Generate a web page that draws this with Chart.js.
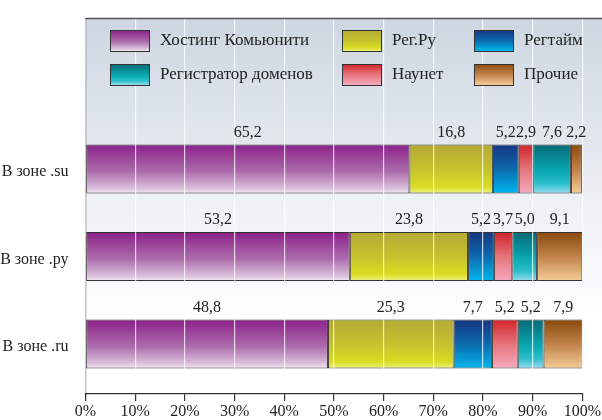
<!DOCTYPE html>
<html>
<head>
<meta charset="utf-8">
<script src="https://cdn.jsdelivr.net/npm/chart.js@4"></script>
<style>
  html, body { margin: 0; padding: 0; background: #fff; }
  #wrap { width: 602px; height: 420px; }
</style>
</head>
<body>
<div id="wrap"><canvas id="c" width="602" height="420"></canvas></div>
<script>
// --- data
const zones = ["В зоне .su", "В зоне .ру", "В зоне .ru"];
const companies = ["Хостинг Комьюнити", "Рег.Ру", "Регтайм", "Наунет", "Регистратор доменов", "Прочие"];
const hosting     = [65.2, 53.2, 48.8];
const regru       = [16.8, 23.8, 25.3];
const regtime     = [5.2, 5.2, 7.7];
const naunet      = [2.9, 3.7, 5.2];
const registrator = [7.6, 5.0, 5.2];
const other       = [2.2, 9.1, 7.9];
const xTicks = [0, 10, 20, 30, 40, 50, 60, 70, 80, 90, 100];

const series = [hosting, regru, regtime, naunet, registrator, other];

// gradient stops (top -> bottom) per company
const stops = [
  [[0, "#8b2189"], [0.55, "#ad6cad"], [0.88, "#d8bcd8"], [1, "#f2e6f2"]],
  [[0, "#b5a934"], [0.5, "#c6c22e"], [0.85, "#d8dc22"], [1, "#eef07a"]],
  [[0, "#163780"], [0.45, "#0e63a8"], [1, "#00b7ee"]],
  [[0, "#d2232a"], [0.5, "#e5757a"], [1, "#f5aac0"]],
  [[0, "#066a76"], [0.55, "#0aa9b2"], [0.8, "#2bbfcc"], [1, "#9adcee"]],
  [[0, "#8a4a0c"], [0.5, "#c0824a"], [1, "#f6cc98"]]
];

// legend order (3 columns x 2 rows) -> dataset index
const legendOrder = [0, 1, 2, 4, 3, 5];

const SERIF = "'Liberation Serif', 'DejaVu Serif', serif";
const BAR_PCT = 0.56;

function grad(ctx, i, y0, y1) {
  const g = ctx.createLinearGradient(0, y0, 0, y1);
  stops[i].forEach(s => g.addColorStop(s[0], s[1]));
  return g;
}

function barFill(i) {
  return (c) => {
    const chart = c.chart;
    const y = chart.scales.y;
    if (!chart.chartArea || !y || c.dataIndex == null) return stops[i][1][1];
    const mid = y.getPixelForValue(c.dataIndex);
    const half = Math.abs(y.getPixelForValue(1) - y.getPixelForValue(0)) * BAR_PCT / 2;
    return grad(chart.ctx, i, mid - half, mid + half);
  };
}

// background panel, top rule
const panel = {
  id: "panel",
  beforeDraw(chart) {
    const { ctx, chartArea: a } = chart;
    ctx.save();
    const g = ctx.createLinearGradient(0, a.top, 0, a.bottom);
    g.addColorStop(0, "#cdd6e1");
    g.addColorStop(0.5, "#eef1f5");
    g.addColorStop(0.8, "#ffffff");
    g.addColorStop(1, "#ffffff");
    ctx.fillStyle = g;
    ctx.fillRect(a.left, a.top, chart.width - a.left, a.bottom - a.top);
    ctx.restore();
  },
  afterDraw(chart) {
    const { ctx, chartArea: a } = chart;
    ctx.save();
    ctx.strokeStyle = "#555";
    ctx.lineWidth = 1.5;
    ctx.beginPath();
    ctx.moveTo(a.left, a.top);
    ctx.lineTo(chart.width, a.top);
    ctx.stroke();
    ctx.restore();
  }
};

// values above the segments
const valueLabels = {
  id: "valueLabels",
  afterDraw(chart) {
    const ctx = chart.ctx;
    ctx.save();
    ctx.font = "16px " + SERIF;
    ctx.fillStyle = "#222";
    ctx.textAlign = "center";
    ctx.textBaseline = "middle";
    chart.data.datasets.forEach((ds, i) => {
      chart.getDatasetMeta(i).data.forEach((bar, j) => {
        const v = ds.data[j].x;
        const cx = (bar.base + bar.x) / 2;
        const cy = bar.y - bar.height / 2 - 12;
        ctx.fillText(v.toFixed(1).replace(".", ","), cx, cy);
      });
    });
    ctx.restore();
  }
};

// legend 3 x 2 inside the panel
const gridLegend = {
  id: "gridLegend",
  afterDraw(chart) {
    const ctx = chart.ctx;
    const colX = [110, 342, 474];
    const rowY = [30, 64];
    ctx.save();
    ctx.font = "17px " + SERIF;
    ctx.textBaseline = "middle";
    legendOrder.forEach((di, k) => {
      const x = colX[k % 3], y = rowY[Math.floor(k / 3)];
      ctx.fillStyle = grad(ctx, di, y, y + 21);
      ctx.fillRect(x, y, 39, 21);
      ctx.strokeStyle = "#333";
      ctx.lineWidth = 1;
      ctx.strokeRect(x + 0.5, y + 0.5, 39, 21);
      ctx.fillStyle = "#222";
      ctx.fillText(chart.data.datasets[di].label, x + 50, y + 11);
    });
    ctx.restore();
  }
};

new Chart(document.getElementById("c"), {
  type: "bar",
  data: {
    datasets: companies.map((name, i) => ({
      label: name,
      data: series[i].map((v, j) => ({ x: v, y: j })),
      backgroundColor: barFill(i),
      borderColor: "#333",
      borderWidth: 1,
      borderSkipped: false,
      barPercentage: BAR_PCT,
      categoryPercentage: 1
    }))
  },
  options: {
    indexAxis: "y",
    responsive: false,
    animation: false,
    layout: { padding: { top: 11, right: 17, left: 0, bottom: 0 } },
    plugins: { legend: { display: false }, tooltip: { enabled: false } },
    scales: {
      x: {
        stacked: true,
        min: 0,
        max: 100,
        afterBuildTicks: s => { s.ticks = xTicks.map(v => ({ value: v })); },
        afterFit: s => { s.height = 26; },
        ticks: {
          callback: v => v + "%",
          color: "#222",
          font: { family: SERIF, size: 16 },
          padding: 1,
          maxRotation: 0
        },
        grid: {
          color: "rgba(255,255,255,0.75)",
          lineWidth: 1.2,
          z: 1,
          tickColor: "#333",
          tickLength: 7
        },
        border: { color: "#333", width: 1.2, z: 1 }
      },
      y: {
        type: "linear",
        stacked: true,
        reverse: true,
        offset: false,
        min: -1.72,
        max: 2.571,
        afterBuildTicks: s => { s.ticks = zones.map((z, i) => ({ value: i })); },
        afterFit: s => { s.width = 85.5; },
        ticks: {
          callback: v => zones[v],
          color: "#222",
          font: { family: SERIF, size: 16 },
          padding: 9,
          labelOffset: 3
        },
        grid: { display: false },
        border: { color: "#333", width: 1.2 }
      }
    }
  },
  plugins: [panel, valueLabels, gridLegend]
});
</script>
</body>
</html>
